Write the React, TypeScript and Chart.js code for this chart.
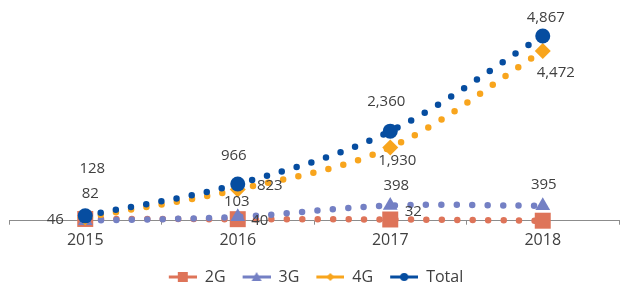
import React, { useEffect, useRef } from 'react';
import { Chart, registerables } from 'chart.js';

Chart.register(...registerables);

// ---- data ----
const years = ['2015', '2016', '2017', '2018'];
const series2G = [46, 40, 32, 0];
const series3G = [0, 103, 398, 395];
const series4G = [82, 823, 1930, 4472];
const seriesTotal = [128, 966, 2360, 4867];
const seriesNames = ['2G', '3G', '4G', 'Total'];

// ---- styles ----
const COLORS = ['#DE7459', '#7480C4', '#F8A51D', '#064DA0'];
const TEXT = '#404040';
const FONT = '"Open Sans", "Noto Sans", sans-serif';

// value-label offsets from each marker (px); null = no label
const off2G = [[-30, 1], [22, 2], [23, -8], null];
const off3G = [null, [-1, -15], [6, -20], [1, -21]];
const off4G = [[5, -24], [32, -4], [7, 13], [13, 22]];
const offTotal = [[7, -47], [-4, -28], [-4, -29], [3, -18]];

function legendIcon(color: string, kind: string): HTMLCanvasElement {
  const c = document.createElement('canvas');
  c.width = 32;
  c.height = 12;
  const ctx = c.getContext('2d')!;
  ctx.strokeStyle = color;
  ctx.lineWidth = 3;
  ctx.beginPath();
  ctx.moveTo(4, 6);
  ctx.lineTo(32, 6);
  ctx.stroke();
  ctx.fillStyle = color;
  const cx = 18, cy = 6;
  ctx.beginPath();
  if (kind === 'rect') {
    ctx.rect(cx - 5, cy - 5, 10, 10);
  } else if (kind === 'triangle') {
    ctx.moveTo(cx, cy - 5);
    ctx.lineTo(cx + 5, cy + 4);
    ctx.lineTo(cx - 5, cy + 4);
    ctx.closePath();
  } else if (kind === 'rectRot') {
    ctx.moveTo(cx, cy - 4);
    ctx.lineTo(cx + 4, cy);
    ctx.lineTo(cx, cy + 4);
    ctx.lineTo(cx - 4, cy);
    ctx.closePath();
  } else {
    ctx.arc(cx, cy, 4, 0, Math.PI * 2);
  }
  ctx.fill();
  return c;
}

const valueLabels = {
  id: 'valueLabels',
  afterDatasetsDraw(chart: any, _args: any, opts: any) {
    const ctx = chart.ctx;
    ctx.save();
    ctx.font = `15px ${FONT}`;
    ctx.fillStyle = TEXT;
    ctx.textAlign = 'center';
    ctx.textBaseline = 'middle';
    chart.data.datasets.forEach((ds: any, di: number) => {
      const meta = chart.getDatasetMeta(di);
      const offs = opts.offsets[di];
      meta.data.forEach((pt: any, i: number) => {
        const o = offs[i];
        if (!o) return;
        ctx.fillText(Number(ds.data[i]).toLocaleString('en-US'), pt.x + o[0], pt.y + o[1]);
      });
    });
    ctx.restore();
  },
};

const legendShift = {
  id: 'legendShift',
  afterLayout(chart: any) {
    const l = chart.legend;
    if (l) {
      l.top += 6;
      l.bottom += 6;
    }
  },
};

export default function App() {
  const ref = useRef<HTMLCanvasElement>(null);
  useEffect(() => {
    document.body.style.margin = '0';
    const styles = ['rect', 'triangle', 'rectRot', 'circle'];
    const radii = [11.3, 8.5, 8, 7.5];
    const values = [series2G, series3G, series4G, seriesTotal];
    const icons = styles.map((s, i) => legendIcon(COLORS[i], s));
    const chart = new Chart(ref.current!, {
      type: 'line',
      data: {
        labels: years,
        datasets: values.map((v, i) => ({
          label: seriesNames[i],
          data: v,
          borderColor: COLORS[i],
          backgroundColor: COLORS[i],
          borderWidth: 6.5,
          borderDash: [0, 15.5],
          borderCapStyle: 'round',
          tension: 0.35,
          fill: false,
          clip: false,
          pointStyle: styles[i],
          pointRadius: radii[i],
          pointHoverRadius: radii[i],
          pointBackgroundColor: COLORS[i],
          pointBorderWidth: 0,
          order: 3 - i,
        })) as any,
      },
      options: {
        responsive: false,
        animation: false,
        events: [],
        layout: { autoPadding: false, padding: { left: 9, right: 2, top: 31, bottom: 0 } },
        scales: {
          x: {
            offset: true,
            grid: {
              drawOnChartArea: false,
              drawTicks: true,
              tickLength: 4,
              offset: true,
              color: '#8c8c8c',
            },
            border: { color: '#8c8c8c', width: 1 },
            ticks: { color: TEXT, font: { size: 16, family: FONT }, padding: 6.5 },
            afterFit: (s: any) => {
              s.height -= 6.9;
            },
          },
          y: { display: false, min: 0, max: 5000 },
        },
        plugins: {
          tooltip: { enabled: false },
          legend: {
            position: 'bottom',
            labels: {
              usePointStyle: true,
              pointStyleWidth: 32,
              padding: 13,
              color: TEXT,
              font: { size: 16, family: FONT },
              sort: (a: any, b: any) => a.datasetIndex - b.datasetIndex,
              generateLabels: (ch: any) =>
                ch.data.datasets.map((ds: any, i: number) => ({
                  text: ds.label,
                  pointStyle: icons[i],
                  fillStyle: COLORS[i],
                  strokeStyle: COLORS[i],
                  lineWidth: 0,
                  hidden: false,
                  datasetIndex: i,
                  fontColor: TEXT,
                })),
            },
          },
          valueLabels: { offsets: [off2G, off3G, off4G, offTotal] },
        } as any,
      },
      plugins: [valueLabels, legendShift],
    });
    return () => chart.destroy();
  }, []);
  return (
    <div style={{ width: 621, height: 289 }}>
      <canvas ref={ref} width={621} height={289} />
    </div>
  );
}
